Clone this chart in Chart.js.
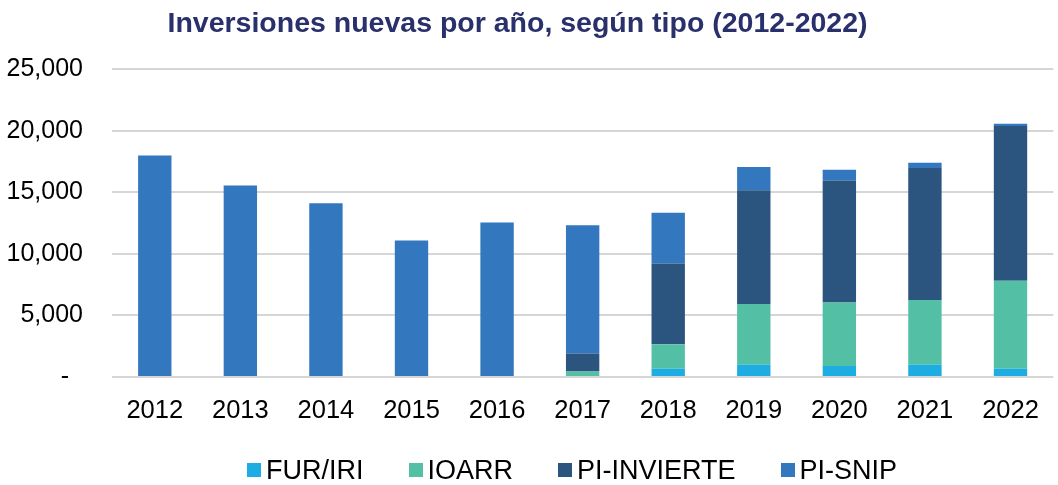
<!DOCTYPE html>
<html>
<head>
<meta charset="utf-8">
<script src="https://cdn.jsdelivr.net/npm/chart.js@4.4.1/dist/chart.umd.min.js"></script>
<style>
  html, body { margin: 0; padding: 0; background: #fff; }
  #wrap { position: relative; width: 1058px; height: 485px; }
  #legend { position: absolute; left: 247px; top: 455px; display: flex; gap: 45px;
            font-family: "Liberation Sans", Arial, sans-serif; font-size: 27px; line-height: 30px; color: #000; }
  #legend .item { display: flex; align-items: center; white-space: nowrap; }
  #legend .box { width: 14px; height: 14px; margin-right: 5px; }
</style>
</head>
<body>
<div id="wrap"><canvas id="chart"></canvas><div id="legend"></div></div>
<script>
// values (stacked, per year)
const years    = ["2012","2013","2014","2015","2016","2017","2018","2019","2020","2021","2022"];
const furIri   = [0, 0, 0, 0, 0, 0, 680, 1000, 900, 1000, 680];
const ioarr    = [0, 0, 0, 0, 0, 450, 1990, 4930, 5150, 5260, 7140];
const invierte = [0, 0, 0, 0, 0, 1450, 6540, 9240, 9920, 10710, 12560];
const snip     = [18000, 15560, 14120, 11080, 12550, 10430, 4140, 1880, 870, 440, 190];
const yTicks   = [0, 5000, 10000, 15000, 20000, 25000];

const font = "'Liberation Sans', Arial, sans-serif";

const datasets = [
  { label: "FUR/IRI",     data: furIri,   backgroundColor: "#1eade3" },
  { label: "IOARR",       data: ioarr,    backgroundColor: "#53c0a6" },
  { label: "PI-INVIERTE", data: invierte, backgroundColor: "#2b547f" },
  { label: "PI-SNIP",     data: snip,     backgroundColor: "#3377be" }
].map(d => ({ ...d, borderWidth: 0, barPercentage: 0.39, categoryPercentage: 1 }));

// nudge the title a bit left like the original
const shiftTitle = {
  id: "shiftTitle",
  afterLayout(chart) {
    if (chart.titleBlock) { chart.titleBlock.left -= 10; chart.titleBlock.right -= 10; }
  }
};

const chart = new Chart(document.getElementById("chart").getContext("2d"), {
  type: "bar",
  data: { labels: years, datasets },
  plugins: [shiftTitle],
  options: {
    responsive: true,
    maintainAspectRatio: false,
    animation: false,
    layout: { padding: { left: 0, right: 3, top: 0, bottom: 58 } },
    plugins: {
      legend: { display: false },
      tooltip: { enabled: false },
      title: {
        display: true,
        text: "Inversiones nuevas por año, según tipo (2012-2022)",
        color: "#29306b",
        font: { family: font, size: 28.5, weight: "bold", lineHeight: 1.2 },
        padding: { top: 7, bottom: 28 }
      }
    },
    scales: {
      x: {
        stacked: true,
        grid: { display: false, drawTicks: false },
        border: { display: false },
        ticks: { color: "#000", font: { family: font, size: 25.5 }, padding: 19 },
        afterFit: s => { s.height = 50; }
      },
      y: {
        stacked: true,
        min: 0,
        max: 25000,
        afterBuildTicks: s => { s.ticks = yTicks.map(v => ({ value: v })); },
        grid: { color: "#d6d6d6", lineWidth: 2, drawTicks: false },
        border: { display: false },
        ticks: {
          color: "#000",
          font: { family: font, size: 25 },
          padding: 29,
          callback: v => v === 0 ? "-  " : v.toLocaleString("en-US")
        },
        afterFit: s => { s.width = 112; }
      }
    }
  }
});

// legend as html, built from the datasets
const legend = document.getElementById("legend");
chart.data.datasets.forEach(d => {
  const item = document.createElement("div");
  item.className = "item";
  const box = document.createElement("span");
  box.className = "box";
  box.style.background = d.backgroundColor;
  item.appendChild(box);
  item.appendChild(document.createTextNode(d.label));
  legend.appendChild(item);
});
</script>
</body>
</html>
